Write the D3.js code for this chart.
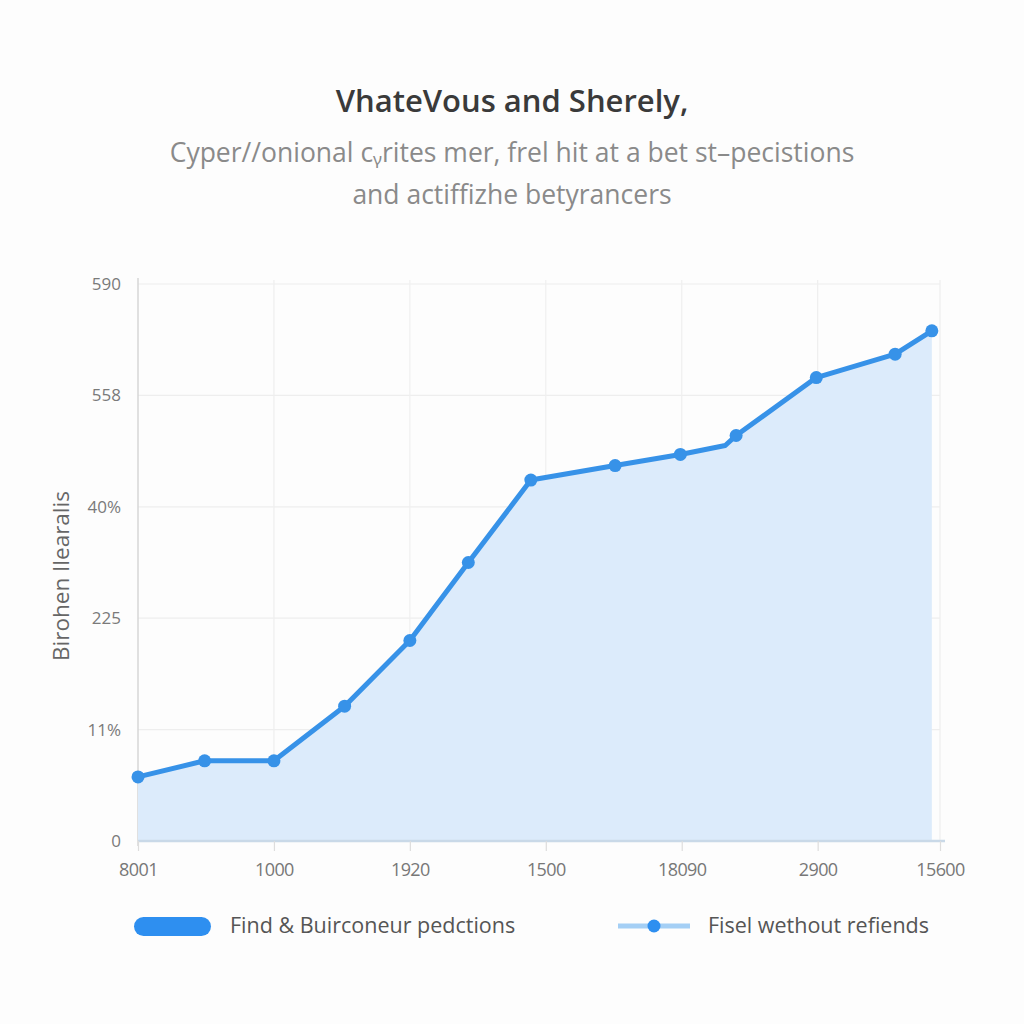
<!DOCTYPE html>
<html><head><meta charset="utf-8">
<script src="https://cdn.jsdelivr.net/npm/d3@7"></script>
<style>html,body{margin:0;padding:0;background:#fdfdfd;}svg{display:block;font-family:"Open Sans","Noto Sans",sans-serif;}</style>
</head><body>
<svg id="c" width="1024" height="1024"></svg>
<script>
const titleText = "VhateVous and Sherely,";
const subtitleLines = ["Cyper//onional c\u1D67rites mer, frel hit at a bet st\u2013pecistions", "and actiffizhe betyrancers"];
const yAxisTitle = "Birohen Ilearalis";
const yTickLabels = ["0", "11%", "225", "40%", "558", "590"];
const xTickLabels = ["8001", "1000", "1920", "1500", "18090", "2900", "15600"];
const xTickValues = [0, 1, 2, 3, 4, 5, 5.9];
const seriesX = [0, 0.49, 1.0, 1.52, 2.0, 2.43, 2.89, 3.51, 3.99, 4.32, 4.40, 4.99, 5.57, 5.84];
const seriesY = [0.575, 0.72, 0.72, 1.21, 1.80, 2.50, 3.24, 3.37, 3.47, 3.55, 3.64, 4.16, 4.37, 4.58];
const seriesMarker = [1,1,1,1,1,1,1,1,1,0,1,1,1,1];
const legendLabels = ["Find & Buirconeur pedctions", "Fisel wethout refiends"];

const svg = d3.select("#c");
const x = d3.scaleLinear().domain([0, 5.9]).range([138, 940]);
const y = d3.scaleLinear().domain([0, 5]).range([841, 284]);

// title
svg.append("text").attr("x", 512).attr("y", 112).attr("text-anchor", "middle")
  .attr("font-size", 31).attr("font-weight", 600).attr("fill", "#3a3a3a").text(titleText);
subtitleLines.forEach((t, i) => {
  svg.append("text").attr("x", 512).attr("y", 162 + i * 42).attr("text-anchor", "middle")
    .attr("font-size", 26.5).attr("fill", "#8a8a8a").text(t);
});

// grid
const g = svg.append("g");
g.selectAll(".hg").data(d3.range(1, 6)).enter().append("line")
  .attr("x1", 138).attr("x2", 940).attr("y1", d => y(d)).attr("y2", d => y(d))
  .attr("stroke", "#eeeeee").attr("stroke-width", 1.2);
g.selectAll(".vg").data(xTickValues.slice(1)).enter().append("line")
  .attr("x1", d => x(d)).attr("x2", d => x(d)).attr("y1", 280).attr("y2", 841)
  .attr("stroke", "#efefef").attr("stroke-width", 1.2);

// axes lines
g.append("line").attr("x1", 138).attr("x2", 138).attr("y1", 278).attr("y2", 846)
  .attr("stroke", "#d6d6d6").attr("stroke-width", 1.5);

// area
const pts = seriesX.map((d, i) => ({x: d, y: seriesY[i], m: seriesMarker[i]}));
const area = d3.area().x(d => x(d.x)).y0(y(0)).y1(d => y(d.y));
svg.append("path").datum(pts).attr("d", area).attr("fill", "#dcebfb");

// bottom axis
const xAxis = d3.axisBottom(x).tickValues(xTickValues).tickFormat((d, i) => xTickLabels[i]).tickSize(10).tickSizeOuter(0);
const ax = svg.append("g").attr("transform", "translate(0,841)").call(xAxis);
ax.select(".domain").attr("stroke", "#c9d9e8").attr("stroke-width", 2.5).attr("d", "M138,0H945");
ax.selectAll(".tick line").attr("stroke", "#dddddd").attr("stroke-width", 1.2);
ax.selectAll(".tick text").attr("font-size", 18).attr("fill", "#777").attr("dy", "1.2em")
  .attr("font-family", "\"Open Sans\",sans-serif").attr("letter-spacing", "-0.6");

// left axis labels
const yAxis = d3.axisLeft(y).tickValues(d3.range(0, 6)).tickFormat((d, i) => yTickLabels[i]).tickSize(0);
const ay = svg.append("g").attr("transform", "translate(124,0)").call(yAxis);
ay.select(".domain").remove();
ay.selectAll(".tick text").attr("font-size", 17).attr("fill", "#7a7a7a").attr("font-family", "\"Open Sans\",sans-serif");

svg.append("text").attr("transform", "translate(69,576) rotate(-90)").attr("text-anchor", "middle")
  .attr("font-size", 22.5).attr("fill", "#666").text(yAxisTitle);

// line
const line = d3.line().x(d => x(d.x)).y(d => y(d.y));
svg.append("path").datum(pts).attr("d", line).attr("fill", "none")
  .attr("stroke", "#3792e8").attr("stroke-width", 5).attr("stroke-linejoin", "round");
svg.selectAll(".pt").data(pts.filter(d => d.m)).enter().append("circle")
  .attr("cx", d => x(d.x)).attr("cy", d => y(d.y)).attr("r", 6.5).attr("fill", "#3792e8");

// legend
svg.append("rect").attr("x", 134).attr("y", 917).attr("width", 77).attr("height", 19).attr("rx", 9.5)
  .attr("fill", "#2e8ff0");
svg.append("text").attr("x", 230).attr("y", 933).attr("font-size", 21.5).attr("fill", "#555").text(legendLabels[0]);
svg.append("line").attr("x1", 618).attr("x2", 690).attr("y1", 926).attr("y2", 926)
  .attr("stroke", "#a4cff5").attr("stroke-width", 5);
svg.append("circle").attr("cx", 654).attr("cy", 926).attr("r", 6.5).attr("fill", "#2e8ff0");
svg.append("text").attr("x", 708).attr("y", 933).attr("font-size", 21.5).attr("fill", "#555").text(legendLabels[1]);
</script>
</body></html>
